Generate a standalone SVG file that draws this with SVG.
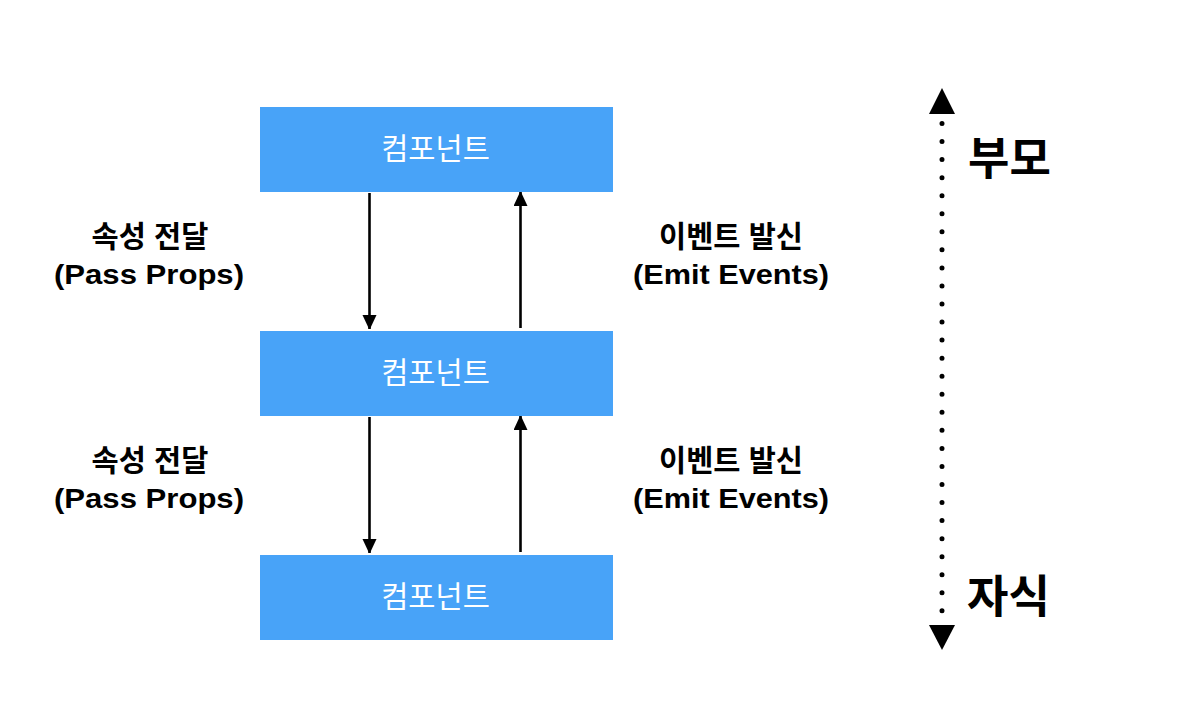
<svg xmlns="http://www.w3.org/2000/svg" width="1178" height="716" viewBox="0 0 1178 716">
<defs>
<style>
.box{fill:#48A3F8}
.bt{font-family:"Noto Sans CJK KR","Liberation Sans",sans-serif;font-size:29.5px;fill:#ffffff;text-anchor:middle}
.lbl{font-family:"Liberation Sans","Noto Sans CJK KR",sans-serif;font-size:28px;font-weight:bold;fill:#000;text-anchor:middle}
.ko{font-size:29.5px}
.big{font-family:"Noto Sans CJK KR","Liberation Sans",sans-serif;font-size:45px;font-weight:bold;fill:#000}
.ln{stroke:#000;stroke-width:2.6;fill:none}
</style>
<marker id="ah" viewBox="0 0 14 15" refX="14" refY="7" markerWidth="14" markerHeight="15" markerUnits="userSpaceOnUse" orient="auto">
<path d="M0,0 L15,7 L0,14 Z" fill="#000"/>
</marker>
</defs>
<rect width="1178" height="716" fill="#fff"/>
<g id="node1"><rect class="box" x="260" y="107" width="353" height="85"/><text class="bt" x="435.5" y="159">컴포넌트</text></g>
<g id="node2"><rect class="box" x="260" y="331" width="353" height="85"/><text class="bt" x="435.5" y="383">컴포넌트</text></g>
<g id="node3"><rect class="box" x="260" y="555" width="353" height="85"/><text class="bt" x="435.5" y="607">컴포넌트</text></g>
<g id="connectors">
<line class="ln" x1="369.5" y1="193" x2="369.5" y2="329" marker-end="url(#ah)"/>
<line class="ln" x1="520.5" y1="328" x2="520.5" y2="192" marker-end="url(#ah)"/>
<line class="ln" x1="369.5" y1="417" x2="369.5" y2="553" marker-end="url(#ah)"/>
<line class="ln" x1="520.5" y1="552" x2="520.5" y2="416" marker-end="url(#ah)"/>
</g>
<g id="labels">
<text class="lbl ko" x="150" y="247">속성 전달</text>
<text class="lbl" x="149" y="284" textLength="190" lengthAdjust="spacingAndGlyphs">(Pass Props)</text>
<text class="lbl ko" x="731" y="247">이벤트 발신</text>
<text class="lbl" x="731" y="284" textLength="196" lengthAdjust="spacingAndGlyphs">(Emit Events)</text>
<text class="lbl ko" x="150" y="471">속성 전달</text>
<text class="lbl" x="149" y="508" textLength="190" lengthAdjust="spacingAndGlyphs">(Pass Props)</text>
<text class="lbl ko" x="731" y="471">이벤트 발신</text>
<text class="lbl" x="731" y="508" textLength="196" lengthAdjust="spacingAndGlyphs">(Emit Events)</text>
</g>
<g id="scale">
<line x1="942" y1="123.5" x2="942" y2="611" stroke="#000" stroke-width="5" stroke-linecap="round" stroke-dasharray="0 18.05"/>
<path d="M942,88 L955,114 L929,114 Z" fill="#000"/>
<path d="M942,650 L955,625 L929,625 Z" fill="#000"/>
<text class="big" x="968" y="175">부모</text>
<text class="big" x="967" y="613">자식</text>
</g>
</svg>
